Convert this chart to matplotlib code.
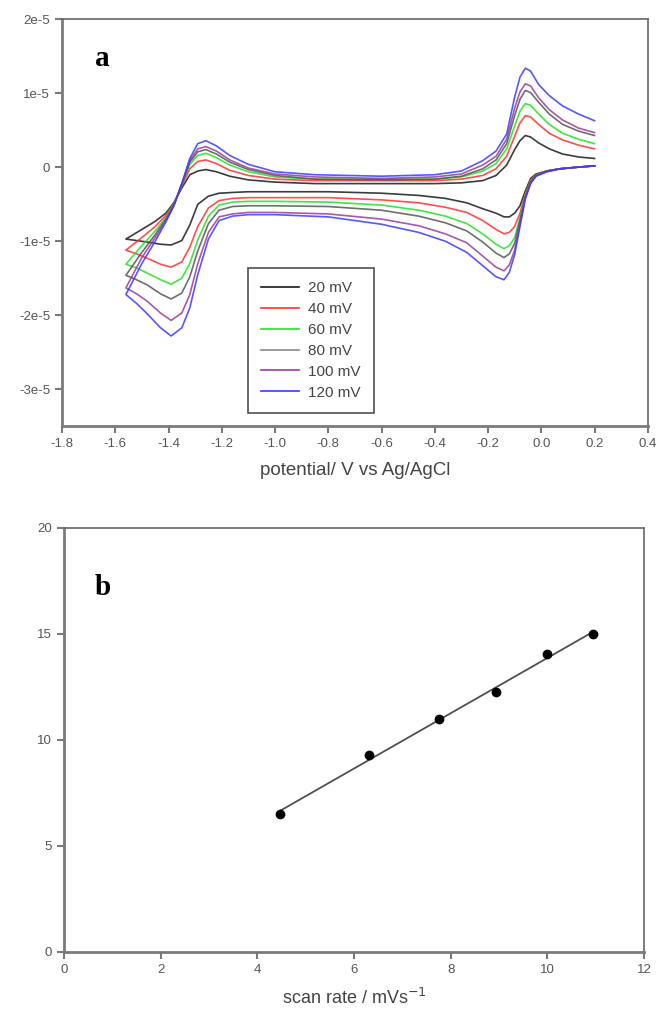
import numpy as np
import matplotlib
matplotlib.use("Agg")
import matplotlib.pyplot as plt

plt.rcParams['font.family'] = ['Liberation Sans', 'DejaVu Sans']

# ---- panel a: cyclic voltammograms (current in units of 1e-5 A) ----
labels = ['20 mV', '40 mV', '60 mV', '80 mV', '100 mV', '120 mV']
colors = ['#1a1a1a', '#ff3030', '#22e022', '#555555', '#9a3c9a', '#3a3aff']
legend_colors = ['#1a1a1a', '#ff3030', '#22e022', '#8a8a8a', '#9a3c9a', '#3a3aff']

# reverse (cathodic) sweep, 0.2 V -> -1.56 V
E_dn = [0.20, 0.13, 0.07, 0.02, -0.02, -0.04, -0.06, -0.08, -0.10, -0.12, -0.14,
        -0.17, -0.22, -0.28, -0.36, -0.46, -0.60, -0.80, -1.00, -1.10, -1.16,
        -1.21, -1.25, -1.29, -1.32, -1.35, -1.39, -1.43, -1.48, -1.52, -1.56]
I_dn_20 = [0.02, 0.00, -0.02, -0.05, -0.09, -0.15, -0.32, -0.52, -0.62, -0.67, -0.67,
           -0.62, -0.56, -0.48, -0.42, -0.38, -0.35, -0.33, -0.33, -0.33, -0.34,
           -0.35, -0.39, -0.50, -0.78, -0.99, -1.05, -1.04, -1.01, -0.99, -0.97]
I_dn_40 = [0.02, 0.00, -0.02, -0.05, -0.10, -0.17, -0.36, -0.62, -0.80, -0.88, -0.90,
           -0.84, -0.72, -0.61, -0.54, -0.48, -0.44, -0.41, -0.41, -0.41, -0.42,
           -0.45, -0.55, -0.80, -1.08, -1.28, -1.35, -1.31, -1.23, -1.17, -1.12]
I_dn_60 = [0.02, 0.00, -0.02, -0.05, -0.11, -0.19, -0.38, -0.68, -0.95, -1.06, -1.10,
           -1.04, -0.90, -0.76, -0.66, -0.58, -0.51, -0.47, -0.46, -0.46, -0.47,
           -0.51, -0.66, -0.98, -1.30, -1.50, -1.58, -1.52, -1.43, -1.36, -1.31]
I_dn_80 = [0.02, 0.00, -0.02, -0.05, -0.11, -0.20, -0.40, -0.72, -1.03, -1.17, -1.22,
           -1.16, -1.01, -0.86, -0.75, -0.66, -0.58, -0.53, -0.52, -0.52, -0.53,
           -0.58, -0.76, -1.13, -1.48, -1.70, -1.78, -1.71, -1.59, -1.52, -1.46]
I_dn_100 = [0.02, 0.00, -0.02, -0.06, -0.12, -0.21, -0.41, -0.76, -1.12, -1.32, -1.40,
            -1.35, -1.20, -1.02, -0.90, -0.79, -0.70, -0.63, -0.61, -0.61, -0.63,
            -0.67, -0.88, -1.30, -1.72, -1.97, -2.07, -1.97, -1.81, -1.71, -1.63]
I_dn_120 = [0.02, 0.00, -0.02, -0.06, -0.12, -0.22, -0.43, -0.80, -1.18, -1.42, -1.52,
            -1.48, -1.33, -1.15, -1.00, -0.88, -0.77, -0.67, -0.64, -0.64, -0.66,
            -0.72, -0.97, -1.45, -1.90, -2.17, -2.28, -2.17, -1.98, -1.84, -1.72]

# forward (anodic) sweep, -1.56 V -> 0.2 V
E_up = [-1.56, -1.50, -1.45, -1.41, -1.38, -1.35, -1.32, -1.29, -1.26, -1.22, -1.17,
        -1.10, -1.00, -0.85, -0.60, -0.40, -0.30, -0.22, -0.17, -0.13, -0.10,
        -0.08, -0.06, -0.04, -0.01, 0.03, 0.08, 0.14, 0.20]
I_up_20 = [-0.97, -0.84, -0.73, -0.62, -0.48, -0.28, -0.10, -0.05, -0.03, -0.06, -0.12,
           -0.17, -0.20, -0.22, -0.22, -0.22, -0.21, -0.18, -0.11, 0.03, 0.24,
           0.36, 0.43, 0.41, 0.33, 0.25, 0.18, 0.14, 0.12]
I_up_40 = [-1.12, -0.95, -0.80, -0.65, -0.49, -0.25, -0.02, 0.08, 0.10, 0.05, -0.04,
           -0.11, -0.16, -0.18, -0.18, -0.18, -0.16, -0.11, -0.02, 0.15, 0.42,
           0.60, 0.70, 0.68, 0.58, 0.46, 0.37, 0.30, 0.25]
I_up_60 = [-1.31, -1.06, -0.86, -0.68, -0.50, -0.24, 0.04, 0.16, 0.19, 0.13, 0.03,
           -0.06, -0.13, -0.16, -0.16, -0.16, -0.13, -0.05, 0.05, 0.25, 0.56,
           0.76, 0.86, 0.84, 0.72, 0.58, 0.46, 0.38, 0.32]
I_up_80 = [-1.46, -1.15, -0.91, -0.70, -0.51, -0.23, 0.07, 0.21, 0.24, 0.18, 0.07,
           -0.03, -0.11, -0.16, -0.17, -0.16, -0.12, -0.02, 0.10, 0.32, 0.70,
           0.92, 1.04, 1.01, 0.88, 0.72, 0.58, 0.49, 0.43]
I_up_100 = [-1.63, -1.22, -0.95, -0.72, -0.52, -0.22, 0.09, 0.25, 0.28, 0.22, 0.10,
            -0.01, -0.09, -0.13, -0.15, -0.13, -0.09, 0.03, 0.15, 0.38, 0.80,
            1.02, 1.13, 1.10, 0.94, 0.78, 0.64, 0.53, 0.47]
I_up_120 = [-1.72, -1.30, -1.00, -0.74, -0.52, -0.22, 0.12, 0.32, 0.36, 0.29, 0.16,
            0.04, -0.06, -0.10, -0.12, -0.10, -0.05, 0.09, 0.22, 0.45, 0.95,
            1.22, 1.34, 1.30, 1.12, 0.97, 0.83, 0.72, 0.63]

I_dn = [I_dn_20, I_dn_40, I_dn_60, I_dn_80, I_dn_100, I_dn_120]
I_up = [I_up_20, I_up_40, I_up_60, I_up_80, I_up_100, I_up_120]

xtick_vals = [-1.8, -1.6, -1.4, -1.2, -1.0, -0.8, -0.6, -0.4, -0.2, 0.0, 0.2, 0.4]
xtick_labels = ['-1.8', '-1.6', '-1.4', '-1.2', '-1.0', '-0.8', '-0.6', '-0.4',
                '-0.2', '0.0', '0.2', '0.4']
ytick_vals = [2e-5, 1e-5, 0, -1e-5, -2e-5, -3e-5]
ytick_labels = ['2e-5', '1e-5', '0', '-1e-5', '-2e-5', '-3e-5']

# ---- panel b: peak current vs scan rate ----
scan_x = [4.47, 6.32, 7.75, 8.94, 10.0, 10.95]
peak_y = [6.5, 9.3, 11.0, 12.25, 14.05, 15.0]

spine_col = '#7a7a7a'
tick_col = '#555555'


def style_axes(ax):
    for side in ['left', 'bottom']:
        ax.spines[side].set_color(spine_col)
        ax.spines[side].set_linewidth(2.0)
    for side in ['top', 'right']:
        ax.spines[side].set_color('#666666')
        ax.spines[side].set_linewidth(1.2)
    ax.tick_params(direction='out', length=5, width=1.5, color=spine_col,
                   labelsize=9.5, labelcolor=tick_col, top=False, right=False)


fig = plt.figure(figsize=(6.56, 10.22), dpi=100)

# panel a
ax1 = fig.add_axes([0.0945, 0.583, 0.893, 0.398])
for k in range(len(labels)):
    E = list(E_dn) + list(E_up)
    I = np.array(list(I_dn[k]) + list(I_up[k])) * 1e-5
    ax1.plot(E, I, color=colors[k], lw=1.2, alpha=0.85)
# legend handles drawn with legend colours
handles = [plt.Line2D([], [], color=c, lw=1.2) for c in legend_colors]
leg = ax1.legend(handles, labels, loc='upper left', bbox_to_anchor=(0.317, 0.388),
                 fontsize=11, frameon=True, fancybox=False, edgecolor='#222222',
                 handlelength=2.5, handletextpad=0.6, labelspacing=0.45,
                 borderpad=0.85, borderaxespad=0)
leg.get_frame().set_linewidth(1.2)
for t in leg.get_texts():
    t.set_color('#444444')
ax1.set_xlim(-1.8, 0.4)
ax1.set_ylim(-3.5e-5, 2e-5)
ax1.set_xticks(xtick_vals)
ax1.set_xticklabels(xtick_labels)
ax1.set_yticks(ytick_vals)
ax1.set_yticklabels(ytick_labels)
style_axes(ax1)
ax1.set_xlabel('potential/ V vs Ag/AgCl', fontsize=13.5, color='#444444', labelpad=9)
ax1.text(0.056, 0.905, 'a', transform=ax1.transAxes, fontsize=21, fontweight='bold',
         family='Liberation Serif', va='center', ha='left')

# panel b
ax2 = fig.add_axes([0.0976, 0.0685, 0.884, 0.415])
slope, icpt = np.polyfit(scan_x, peak_y, 1)
xfit = np.array([scan_x[0], scan_x[-1]])
ax2.plot(xfit, slope * xfit + icpt, color='#505050', lw=1.3)
ax2.plot(scan_x, peak_y, 'o', color='black', markersize=6)
ax2.set_xlim(0, 12)
ax2.set_ylim(0, 20)
ax2.set_xticks(range(0, 13, 2))
ax2.set_yticks(range(0, 21, 5))
style_axes(ax2)
ax2.set_xlabel('scan rate / mVs$^{-1}$', fontsize=13, color='#444444', labelpad=9)
ax2.text(0.052, 0.86, 'b', transform=ax2.transAxes, fontsize=21, fontweight='bold',
         family='Liberation Serif', va='center', ha='left')

fig.savefig('out.png', dpi=100)
